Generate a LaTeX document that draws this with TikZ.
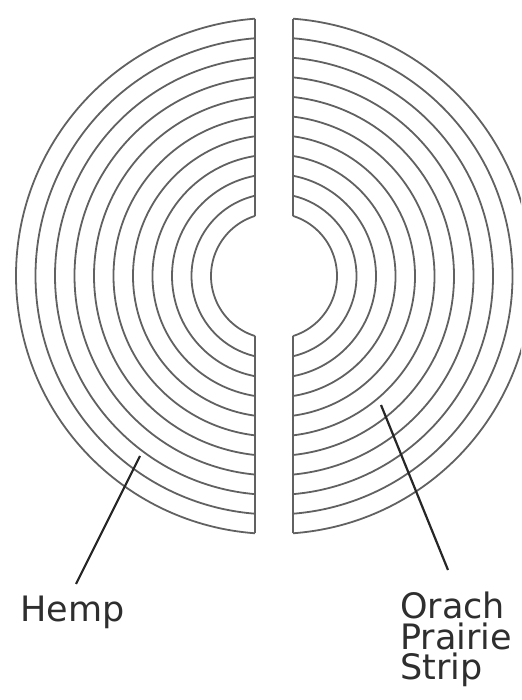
\documentclass[tikz,border=0pt]{standalone}
\usepackage{fontspec}
\setmainfont{DejaVu Sans}
\begin{document}
\begin{tikzpicture}[x=1pt,y=1pt,
  ring/.style={draw=black!62, line width=1.8pt},
  leader/.style={draw=black!85, line width=2.2pt},
  label/.style={inner sep=0pt, text=black!82, font=\fontsize{35}{30.5}\selectfont}]
\useasboundingbox (0,0) rectangle (521,700);
\clip (0,0) rectangle (521,700);
\coordinate (c) at (274,424);
\foreach \i in {0,...,10}{
  \pgfmathsetmacro{\r}{63+19.5*\i}
  \pgfmathsetmacro{\a}{acos(-19/\r)}
  \draw[ring] (c) ++(\a:\r) arc[start angle=\a, end angle={360-\a}, radius=\r];
  \pgfmathsetmacro{\b}{acos(19/\r)}
  \draw[ring] (c) ++(-\b:\r) arc[start angle=-\b, end angle=\b, radius=\r];
}
\draw[ring] (255,{424+257.3}) -- (255,{424+60.07});
\draw[ring] (255,{424-257.3}) -- (255,{424-60.07});
\draw[ring] (293,{424+257.3}) -- (293,{424+60.07});
\draw[ring] (293,{424-257.3}) -- (293,{424-60.07});
\node[label, anchor=base west] (hemp) at (20,78) {Hemp};
\node[label, anchor=north west, align=left] (orach) at (400,108) {Orach\\Prairie\\Strip};
\coordinate (hs) at (140,244);
\coordinate (he) at (76,116);
\coordinate (os) at (381,295);
\coordinate (oe) at (448,130);
\draw[leader] (hs) -- (he);
\draw[leader] (os) -- (oe);
\end{tikzpicture}
\end{document}
